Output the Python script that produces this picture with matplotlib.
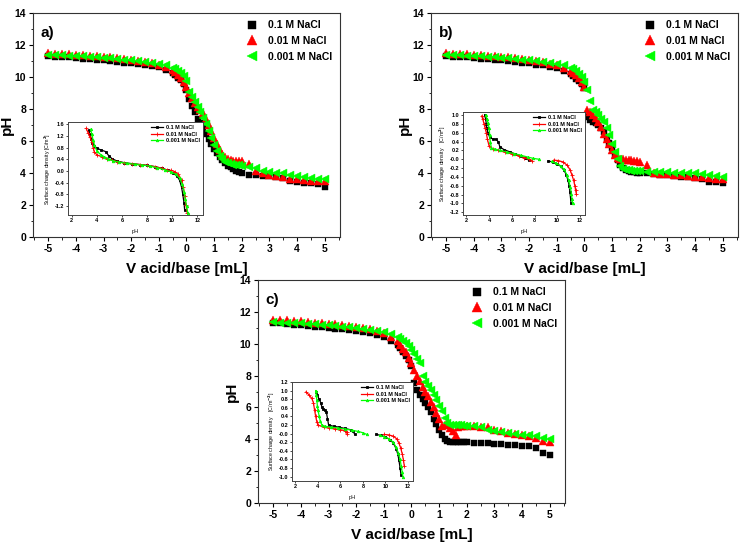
import numpy as np
import matplotlib
matplotlib.use('Agg')
import matplotlib.pyplot as plt

plt.rcParams['font.family'] = ['Liberation Sans', 'DejaVu Sans']
plt.rcParams['font.weight'] = 'bold'
plt.rcParams['axes.unicode_minus'] = False

# ----------[data]----------

labels = ['0.1 M NaCl', '0.01 M NaCl', '0.001 M NaCl']

# titration volume grid [mL]
vol = [-5.0, -4.75, -4.5, -4.25, -4.0, -3.75, -3.5, -3.25, -3.0, -2.75, -2.5, -2.25,
       -2.0, -1.75, -1.5, -1.25, -1.0, -0.75,
       -0.5, -0.4, -0.3, -0.2, -0.1, 0.0, 0.1, 0.2, 0.3, 0.4, 0.5, 0.6, 0.7, 0.8,
       0.9, 1.0, 1.1, 1.2, 1.3, 1.4, 1.5, 1.6, 1.7, 1.8, 1.9, 2.0,
       2.25, 2.5, 2.75, 3.0, 3.25, 3.5, 3.75, 4.0, 4.25, 4.5, 4.75, 5.0]

# panel a
ph_a_01 = [11.30, 11.28, 11.25, 11.22, 11.20, 11.15, 11.10, 11.08, 11.05, 11.00, 10.95, 10.90,
           10.85, 10.80, 10.75, 10.68, 10.60, 10.45,
           10.25, 10.10, 9.95, 9.80, 9.55, 9.20, 8.60, 8.20, 7.80, 7.40, 7.10, 6.80, 6.45, 6.10,
           5.80, 5.50, 5.25, 5.00, 4.80, 4.60, 4.45, 4.35, 4.25, 4.15, 4.05, 4.00,
           3.90, 3.85, 3.82, 3.80, 3.78, 3.70, 3.50, 3.42, 3.38, 3.35, 3.30, 3.15]
ph_a_001 = [11.48, 11.46, 11.44, 11.42, 11.40, 11.36, 11.33, 11.30, 11.27, 11.22, 11.18, 11.12,
            11.06, 11.00, 10.93, 10.86, 10.78, 10.65,
            10.45, 10.30, 10.15, 9.95, 9.70, 9.35, 9.00, 8.70, 8.40, 8.15, 7.95, 7.75, 7.40, 7.00,
            6.60, 6.20, 5.80, 5.45, 5.20, 5.00, 4.90, 4.80, 4.75, 4.72, 4.75, 4.75,
            4.55, 4.15, 3.98, 3.90, 3.82, 3.72, 3.65, 3.60, 3.55, 3.52, 3.50, 3.48]
ph_a_0001 = [11.40, 11.38, 11.36, 11.34, 11.32, 11.30, 11.27, 11.24, 11.20, 11.16, 11.12, 11.08,
             11.04, 10.98, 10.93, 10.88, 10.82, 10.72,
             10.58, 10.50, 10.40, 10.28, 10.05, 9.75, 9.05, 8.75, 8.45, 8.15, 7.80, 7.45, 7.05, 6.65,
             6.20, 5.75, 5.35, 5.05, 4.85, 4.70, 4.60, 4.55, 4.50, 4.50, 4.48, 4.45,
             4.38, 4.30, 4.15, 4.05, 4.00, 3.98, 3.90, 3.82, 3.75, 3.70, 3.65, 3.60]

# panel b
ph_b_01 = [11.30, 11.28, 11.25, 11.22, 11.20, 11.15, 11.10, 11.08, 11.05, 11.00, 10.95, 10.90,
           10.85, 10.78, 10.72, 10.65, 10.55, 10.40,
           10.20, 10.05, 9.90, 9.75, 9.55, 9.30, 7.50, 7.30, 7.20, 7.10, 7.00, 6.80, 6.55, 6.20,
           5.85, 5.55, 5.15, 4.80, 4.50, 4.30, 4.20, 4.12, 4.08, 4.05, 4.02, 4.00,
           3.97, 3.94, 3.90, 3.87, 3.83, 3.78, 3.73, 3.70, 3.65, 3.45, 3.42, 3.40]
ph_b_001 = [11.48, 11.46, 11.44, 11.42, 11.40, 11.36, 11.33, 11.30, 11.27, 11.22, 11.18, 11.12,
            11.06, 11.00, 10.93, 10.84, 10.72, 10.58,
            10.40, 10.25, 10.10, 9.95, 9.70, 9.40, 7.95, 7.80, 7.65, 7.45, 7.20, 6.85, 6.45, 6.10,
            5.80, 5.45, 5.15, 4.95, 4.85, 4.85, 4.80, 4.80, 4.80, 4.78, 4.78, 4.70,
            4.50, 4.00, 3.95, 3.92, 3.88, 3.85, 3.80, 3.78, 3.72, 3.68, 3.65, 3.62]
ph_b_0001 = [11.40, 11.38, 11.36, 11.34, 11.32, 11.30, 11.27, 11.24, 11.20, 11.16, 11.12, 11.08,
             11.04, 10.98, 10.93, 10.88, 10.82, 10.72,
             10.58, 10.48, 10.35, 10.20, 10.00, 9.70, 9.20, 8.50, 7.95, 7.80, 7.60, 7.40, 7.20, 6.80,
             6.35, 5.80, 5.30, 4.85, 4.45, 4.25, 4.20, 4.18, 4.15, 4.12, 4.10, 4.10,
             4.08, 4.06, 4.05, 4.04, 4.02, 4.00, 3.98, 3.98, 3.92, 3.88, 3.82, 3.75]

# panel c
ph_c_01 = [11.30, 11.27, 11.24, 11.20, 11.17, 11.13, 11.08, 11.04, 11.00, 10.95, 10.90, 10.85,
           10.80, 10.72, 10.65, 10.55, 10.42, 10.20,
           9.95, 9.75, 9.45, 9.20, 8.95, 8.60, 7.55, 7.10, 6.75, 6.50, 6.30, 6.05, 5.70, 5.30,
           4.95, 4.60, 4.30, 4.05, 3.90, 3.82, 3.80, 3.80, 3.80, 3.80, 3.80, 3.80,
           3.78, 3.77, 3.75, 3.72, 3.68, 3.65, 3.62, 3.58, 3.55, 3.45, 3.15, 3.00]
ph_c_001 = [11.50, 11.48, 11.46, 11.43, 11.40, 11.37, 11.33, 11.30, 11.26, 11.22, 11.17, 11.12,
            11.06, 10.99, 10.90, 10.80, 10.65, 10.45,
            10.15, 9.95, 9.70, 9.45, 9.10, 8.80, 8.35, 8.00, 7.65, 7.30, 7.00, 6.70, 6.35, 6.00,
            5.65, 5.30, 4.85, 4.90, 4.95, 4.70, 4.50, 4.30, 4.75, 4.85, 4.85, 4.85,
            4.82, 4.80, 4.78, 4.60, 4.50, 4.42, 4.35, 4.28, 4.20, 4.10, 3.90, 3.80]
ph_c_0001 = [11.35, 11.33, 11.31, 11.29, 11.27, 11.24, 11.22, 11.19, 11.16, 11.12, 11.08, 11.04,
             11.00, 10.94, 10.88, 10.80, 10.72, 10.60,
             10.42, 10.32, 10.20, 10.05, 9.85, 9.60, 9.35, 9.05, 8.80, 8.00, 7.60, 7.35, 7.10, 6.80,
             6.45, 6.10, 5.75, 5.35, 5.00, 4.90, 4.90, 4.90, 4.88, 4.87, 4.86, 4.85,
             4.82, 4.78, 4.60, 4.50, 4.45, 4.40, 4.35, 4.30, 4.25, 4.20, 4.10, 4.02]

# insets: surface charge density vs pH (nan separates the two branches)
nan = np.nan
ins_a_ph_01 = [3.35, 3.45, 3.55, 3.65, 3.8, 4.0, 4.3, 4.7, 4.95, 5.2, 5.6, 6.2, 6.8, 7.4, 8.0,
               8.6, 9.2, 9.7, 10.1, 10.4, 10.6, 10.75, 10.85, 10.95, 11.0]
ins_a_sc_01 = [1.38, 1.25, 1.1, 0.95, 0.85, 0.78, 0.72, 0.66, 0.52, 0.42, 0.34, 0.28, 0.25, 0.22, 0.19,
               0.15, 0.09, 0.02, -0.08, -0.18, -0.32, -0.55, -0.8, -1.1, -1.34]
ins_a_ph_001 = [3.15, 3.3, 3.45, 3.6, 3.7, 3.8, 4.0, 4.4, 4.8, 5.2, 5.6, 6.2, 6.8, 7.4, 8.0, 8.6,
                9.2, 9.6, 9.9, 10.2, 10.5, 10.75, 10.9, 11.0, 11.1, 11.2]
ins_a_sc_001 = [1.45, 1.3, 1.15, 1.0, 0.8, 0.65, 0.55, 0.48, 0.42, 0.37, 0.32, 0.27, 0.24, 0.22, 0.19, 0.15,
                0.09, 0.03, 0.02, -0.02, -0.12, -0.3, -0.55, -0.85, -1.15, -1.42]
ins_a_ph_0001 = [3.5, 3.6, 3.7, 3.8, 4.0, 4.3, 4.6, 4.9, 5.3, 5.8, 6.4, 7.0, 7.6, 8.2, 8.8, 9.4,
                 9.9, 10.3, 10.6, 10.8, 10.95, 11.05, 11.15, 11.25]
ins_a_sc_0001 = [1.42, 1.25, 1.05, 0.9, 0.68, 0.56, 0.48, 0.42, 0.34, 0.3, 0.26, 0.23, 0.2, 0.17, 0.11, 0.04,
                 -0.03, -0.12, -0.25, -0.45, -0.7, -0.95, -1.2, -1.42]

ins_b_ph_01 = [3.6, 3.7, 3.75, 3.8, 3.9, 4.05, 4.3, 4.6, 4.8, 4.95, 5.3, 5.8, 6.3, 6.8, 7.2, 7.5, nan,
               9.2, 9.6, 10.0, 10.3, 10.6, 10.8, 10.95, 11.05, 11.12, 11.18, 11.22]
ins_b_sc_01 = [1.0, 0.9, 0.8, 0.7, 0.6, 0.5, 0.46, 0.45, 0.4, 0.28, 0.22, 0.17, 0.12, 0.07, 0.02, -0.02, nan,
               -0.04, -0.06, -0.1, -0.16, -0.25, -0.35, -0.48, -0.6, -0.75, -0.9, -1.0]
ins_b_ph_001 = [3.35, 3.45, 3.55, 3.65, 3.75, 3.85, 4.0, 4.3, 4.8, 5.4, 6.0, 6.6, 7.1, 7.5, 7.75, nan,
                9.7, 10.1, 10.5, 10.9, 11.15, 11.3, 11.45, 11.55, 11.62, 11.68]
ins_b_sc_001 = [0.98, 0.9, 0.8, 0.7, 0.6, 0.45, 0.3, 0.24, 0.2, 0.16, 0.12, 0.08, 0.04, 0.0, -0.03, nan,
                -0.02, -0.03, -0.06, -0.14, -0.25, -0.36, -0.48, -0.6, -0.7, -0.78]
ins_b_ph_0001 = [3.7, 3.8, 3.9, 4.0, 4.05, 4.1, 4.2, 4.5, 5.0, 5.6, 6.2, 6.8, 7.4, 7.9, 8.4, nan,
                 9.5, 9.9, 10.3, 10.6, 10.85, 11.0, 11.15, 11.25, 11.3, 11.35]
ins_b_sc_0001 = [1.0, 0.92, 0.82, 0.7, 0.55, 0.4, 0.25, 0.23, 0.2, 0.16, 0.13, 0.09, 0.05, 0.02, 0.0, nan,
                 -0.05, -0.09, -0.15, -0.23, -0.35, -0.48, -0.62, -0.78, -0.9, -1.0]

ins_c_ph_01 = [3.85, 3.95, 4.1, 4.25, 4.35, 4.45, 4.6, 4.75, 4.85, 4.95, 5.4, 5.9, 6.4, 6.9, 7.15, 7.25, nan,
               9.2, 9.6, 10.0, 10.4, 10.7, 10.95, 11.1, 11.2, 11.3, 11.38]
ins_c_sc_01 = [0.97, 0.9, 0.8, 0.72, 0.62, 0.57, 0.55, 0.5, 0.35, 0.2, 0.17, 0.15, 0.12, 0.09, 0.05, -0.01, nan,
               -0.02, -0.04, -0.08, -0.14, -0.22, -0.35, -0.48, -0.62, -0.8, -0.96]
ins_c_ph_001 = [2.95, 3.2, 3.45, 3.6, 3.7, 3.8, 3.9, 4.0, 4.5, 5.0, 5.5, 6.0, 6.4, 6.55, 6.6, nan,
                9.9, 10.3, 10.7, 11.0, 11.2, 11.35, 11.5, 11.6, 11.68]
ins_c_sc_001 = [0.97, 0.9, 0.82, 0.72, 0.55, 0.4, 0.28, 0.2, 0.15, 0.13, 0.11, 0.09, 0.07, 0.03, -0.02, nan,
                -0.02, -0.03, -0.06, -0.12, -0.22, -0.33, -0.48, -0.62, -0.76]
ins_c_ph_0001 = [3.8, 3.85, 3.9, 3.95, 4.0, 4.1, 4.2, 4.35, 4.6, 5.2, 5.8, 6.4, 7.0, 7.6, 8.0, 8.35, nan,
                 9.5, 9.9, 10.3, 10.7, 10.95, 11.15, 11.3, 11.4, 11.48, 11.55]
ins_c_sc_0001 = [1.0, 0.9, 0.78, 0.65, 0.55, 0.42, 0.3, 0.2, 0.17, 0.15, 0.13, 0.11, 0.08, 0.05, 0.02, -0.02, nan,
                 -0.04, -0.07, -0.12, -0.2, -0.32, -0.45, -0.6, -0.75, -0.88, -1.0]


# ----------[figure]----------

fig = plt.figure(figsize=(7.45, 5.47), dpi=100)

main_style = [dict(marker='s', color='black', ms=4.2),
              dict(marker='^', color='#ff0000', ms=5.4),
              dict(marker='<', color='#00ff00', ms=5.4)]
ins_style = [dict(marker='s', color='black', ms=1.5),
             dict(marker='+', color='#ff0000', ms=2.2),
             dict(marker='^', color='#00ff00', ms=1.8)]


def main_panel(rect, series, tag):
    ax = fig.add_axes(rect)
    for y, lab, st in zip(series, labels, main_style):
        ax.plot(vol, y, ls='none', mec=st['color'], mfc=st['color'], marker=st['marker'],
                ms=st['ms'], mew=0.3, label=lab)
    ax.set_xlim(-5.55, 5.55)
    ax.set_ylim(0, 14)
    ax.set_xticks(np.arange(-5, 6, 1))
    ax.set_xticks(np.arange(-5.5, 5.6, 0.5), minor=True)
    ax.set_yticks(np.arange(0, 15, 2))
    ax.set_yticks(np.arange(0, 15, 1), minor=True)
    ax.tick_params(direction='out', labelsize=7.5, length=3, width=0.8, pad=2)
    ax.tick_params(which='minor', length=1.8, width=0.6)
    for lb in ax.get_xticklabels() + ax.get_yticklabels():
        lb.set_fontweight('bold')
    for sp in ax.spines.values():
        sp.set_linewidth(0.8)
        sp.set_color('#333333')
    ax.set_xlabel('V acid/base [mL]', fontsize=11, fontweight='bold', labelpad=6)
    ax.set_ylabel('pH', fontsize=11, fontweight='bold')
    ax.yaxis.set_label_coords(-0.062, 0.5)
    ax.text(0.025, 0.94, tag, transform=ax.transAxes, fontsize=11, fontweight='bold', va='top')
    ax.legend(loc='upper right', frameon=False, handletextpad=0.6,
              borderaxespad=0.3, labelspacing=0.55, markerscale=1.3,
              prop=dict(weight='bold', size=7.5))
    return ax


def inset(rect, phs, scs, ylim, yticks, unit):
    ax = fig.add_axes(rect)
    for x, y, lab, st in zip(phs, scs, labels, ins_style):
        ax.plot(x, y, color=st['color'], lw=0.9, marker=st['marker'], ms=st['ms'],
                mew=0.6, label=lab)
    ax.set_xlim(1.7, 12.45)
    ax.set_ylim(*ylim)
    ax.set_xticks([2, 4, 6, 8, 10, 12])
    ax.set_yticks(yticks)
    ax.set_yticklabels(['%.1f' % v for v in yticks])
    ax.tick_params(direction='out', labelsize=4, length=1.5, width=0.5, pad=1)
    for sp in ax.spines.values():
        sp.set_linewidth(0.7)
        sp.set_color('#444444')
    ax.set_xlabel('pH', fontsize=4, labelpad=4)
    ax.set_ylabel('Surface charge density ' + unit, fontsize=3.8, labelpad=1.5)
    ax.legend(loc='upper right', frameon=False, fontsize=4, handlelength=2.2,
              handletextpad=0.4, labelspacing=0.25, borderaxespad=0.2)
    return ax


main_panel([0.0443, 0.5667, 0.412, 0.4095], [ph_a_01, ph_a_001, ph_a_0001], 'a)')
main_panel([0.5785, 0.5667, 0.412, 0.4095], [ph_b_01, ph_b_001, ph_b_0001], 'b)')
main_panel([0.3463, 0.0804, 0.412, 0.4077], [ph_c_01, ph_c_001, ph_c_0001], 'c)')

inset([0.0913, 0.607, 0.181, 0.170],
      [ins_a_ph_01, ins_a_ph_001, ins_a_ph_0001], [ins_a_sc_01, ins_a_sc_001, ins_a_sc_0001],
      (-1.5, 1.67), np.arange(-1.2, 1.61, 0.4), '[C/m$^2$]')
inset([0.6215, 0.607, 0.1638, 0.1883],
      [ins_b_ph_01, ins_b_ph_001, ins_b_ph_0001], [ins_b_sc_01, ins_b_sc_001, ins_b_sc_0001],
      (-1.26, 1.07), np.arange(-1.2, 1.01, 0.2), '   [C/m$^2$]')
inset([0.392, 0.1207, 0.1624, 0.181],
      [ins_c_ph_01, ins_c_ph_001, ins_c_ph_0001], [ins_c_sc_01, ins_c_sc_001, ins_c_sc_0001],
      (-1.1, 1.2), np.arange(-1.0, 1.21, 0.2), '   [C/m$^{-2}$]')

fig.savefig('out.png', dpi=100)
